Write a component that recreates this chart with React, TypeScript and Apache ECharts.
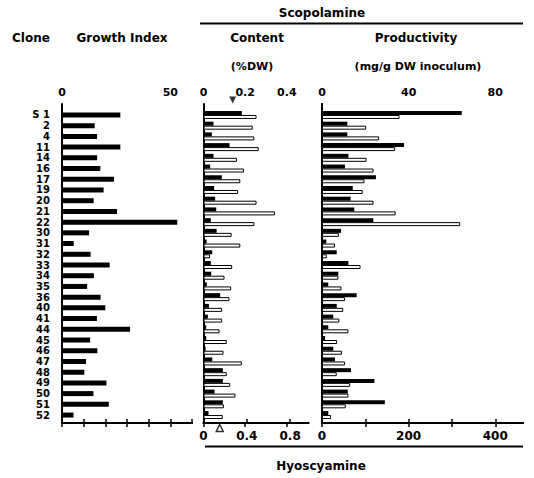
import React, { useEffect, useRef } from 'react';
import * as echarts from 'echarts';

const clones = ['S 1', '2', '4', '11', '14', '16', '17', '19', '20', '21', '22', '30', '31', '32', '33', '34', '35', '36', '40', '41', '44', '45', '46', '47', '48', '49', '50', '51', '52'];
const growthIndex = [26.9, 15.1, 16.2, 26.9, 16.2, 17.7, 24, 19.2, 14.6, 25.4, 53.2, 12.5, 5.4, 13.2, 22, 14.7, 11.6, 17.8, 20, 16.1, 31.4, 13, 16.3, 11.1, 10.3, 20.5, 14.5, 21.6, 5.3];
const scopContent = [0.184, 0.048, 0.04, 0.125, 0.048, 0.032, 0.088, 0.051, 0.056, 0.061, 0.035, 0.063, 0.015, 0.042, 0.035, 0.037, 0.016, 0.08, 0.026, 0.021, 0.013, 0.013, 0.01, 0.042, 0.093, 0.093, 0.053, 0.093, 0.024];
const hyosContent = [0.49, 0.455, 0.47, 0.51, 0.31, 0.375, 0.34, 0.32, 0.49, 0.66, 0.47, 0.26, 0.34, 0.06, 0.265, 0.194, 0.255, 0.24, 0.172, 0.172, 0.148, 0.215, 0.185, 0.354, 0.215, 0.246, 0.295, 0.188, 0.178];
const scopProd = [64.5, 11.7, 11.7, 37.9, 12.2, 10.6, 24.9, 14.2, 13.2, 14.9, 23.7, 8.8, 2, 6.8, 12.2, 7.5, 2.9, 16, 6.8, 5.2, 2.9, 1.4, 5.2, 6, 13.4, 24.2, 11.9, 29, 2.9];
const hyosProd = [179, 102, 132, 169, 103, 119, 98, 94, 119, 170, 319, 39, 30, 11, 89, 38, 45, 53, 49, 40, 61, 35, 46, 53, 34, 65, 61, 55, 21];
const scopParentContent = 0.14;
const hyosParentContent = 0.15;

const growthTopLabels = [0, 50];
const contentTopLabels = [0, 0.2, 0.4];
const contentBottomLabels = [0, 0.4, 0.8];
const prodTopLabels = [0, 40, 80];
const prodBottomLabels = [0, 200, 400];

const FONT = '"DejaVu Sans", "Liberation Sans", sans-serif';

export default function App() {
  const ref = useRef<HTMLDivElement>(null);
  useEffect(() => {
    const chart = echarts.init(ref.current!, null, { renderer: 'svg' });
    const grids: any[] = [];
    const xAxes: any[] = [];
    const yAxes: any[] = [];
    const series: any[] = [];
    const FRAME_TOP = 104;
    const FRAME_H = 319;
    const BAR_TOP = 109.6;
    const BAR_H = 310.8;

    const panels = [
      { left: 62, width: 130, top: { max: 60, interval: 10, labels: growthTopLabels }, bottom: { max: 60, interval: 10, labels: [] as number[] }, right: false, black: growthIndex, white: null as number[] | null, showClones: true, marks: false },
      { left: 203.5, width: 105, top: { max: 0.504, interval: 0.2, labels: contentTopLabels }, bottom: { max: 0.97, interval: 0.4, labels: contentBottomLabels }, right: false, black: scopContent, white: hyosContent, showClones: false, marks: true },
      { left: 322, width: 201, top: { max: 92.8, interval: 20, labels: prodTopLabels }, bottom: { max: 464, interval: 100, labels: prodBottomLabels }, right: true, black: scopProd, white: hyosProd, showClones: false, marks: false },
    ];

    const fmt = (labels: number[]) => (v: number) => {
      const hit = labels.find((l) => Math.abs(l - v) < 1e-9);
      return hit === undefined ? '' : String(hit);
    };

    panels.forEach((p) => {
      const fg = grids.length;
      grids.push({ left: p.left, top: FRAME_TOP, width: p.width, height: FRAME_H });
      const bg = grids.length;
      grids.push({ left: p.left, top: BAR_TOP, width: p.width, height: BAR_H });

      const axisLine = { show: true, lineStyle: { color: '#000', width: 2 } };
      const axisTick = { show: true, inside: true, length: 4, lineStyle: { color: '#000', width: 1.5 } };

      const xTop = xAxes.length;
      xAxes.push({
        gridIndex: fg, type: 'value', position: 'top', min: 0, max: p.top.max, interval: p.top.interval,
        axisLine, axisTick, splitLine: { show: false },
        axisLabel: { show: true, margin: 6, color: '#000', fontSize: 11, fontWeight: 'bold', fontFamily: FONT, formatter: fmt(p.top.labels), showMaxLabel: false },
      });
      const xBottom = xAxes.length;
      xAxes.push({
        gridIndex: fg, type: 'value', position: 'bottom', min: 0, max: p.bottom.max, interval: p.bottom.interval,
        axisLine, axisTick, splitLine: { show: false },
        axisLabel: { show: p.bottom.labels.length > 0, margin: 7, color: '#000', fontSize: 12, fontWeight: 'bold', fontFamily: FONT, formatter: fmt(p.bottom.labels), showMaxLabel: false },
      });
      const xTopB = xAxes.length;
      xAxes.push({ gridIndex: bg, type: 'value', position: 'top', min: 0, max: p.top.max, show: false });
      const xBottomB = xAxes.length;
      xAxes.push({ gridIndex: bg, type: 'value', position: 'bottom', min: 0, max: p.bottom.max, show: false });

      const yFrame = yAxes.length;
      yAxes.push({
        gridIndex: fg, type: 'value', min: 0, max: 1, position: 'left',
        axisLine, axisTick: { show: false }, axisLabel: { show: false }, splitLine: { show: false },
      });
      if (p.right) {
        yAxes.push({
          gridIndex: fg, type: 'value', min: 0, max: 1, position: 'right',
          axisLine, axisTick: { show: false }, axisLabel: { show: false }, splitLine: { show: false },
        });
      }
      const yBar = yAxes.length;
      yAxes.push({
        gridIndex: bg, type: 'category', data: clones, inverse: true,
        axisLine: { show: false }, axisTick: { show: false }, splitLine: { show: false },
        axisLabel: { show: p.showClones, margin: 12, color: '#000', fontSize: 10, fontWeight: 'bold', fontFamily: FONT, interval: 0 },
      });

      series.push({
        type: 'bar', xAxisIndex: xTopB, yAxisIndex: yBar, data: p.black,
        barWidth: p.white ? 4 : 5, barGap: '0%',
        itemStyle: { color: '#000' },
      });
      if (p.white) {
        series.push({
          type: 'bar', xAxisIndex: xBottomB, yAxisIndex: yBar, data: p.white,
          barWidth: 4, barGap: '0%',
          itemStyle: { color: '#fff', borderColor: '#000', borderWidth: 1 },
        });
      }
      if (p.marks) {
        series.push({
          type: 'scatter', xAxisIndex: xTop, yAxisIndex: yFrame, clip: false, z: 5,
          data: [[scopParentContent, 1]], symbol: 'triangle', symbolRotate: 180, symbolSize: 7, symbolOffset: [0, -4],
          itemStyle: { color: '#000' },
        });
        series.push({
          type: 'scatter', xAxisIndex: xBottom, yAxisIndex: yFrame, clip: false, z: 5,
          data: [[hyosParentContent, 0]], symbol: 'triangle', symbolSize: 7, symbolOffset: [0, 5],
          itemStyle: { color: '#fff', borderColor: '#000', borderWidth: 1.5 },
        });
      }
    });

    const txt = (text: string, x: number, y: number, size = 12) => ({
      type: 'text',
      style: {
        text, x, y, fill: '#000',
        font: `bold ${size}px ${FONT}`,
        fontSize: size, fontWeight: 'bold', fontFamily: FONT,
        align: 'center', verticalAlign: 'middle', textAlign: 'center', textVerticalAlign: 'middle',
      },
    });
    const line = (x1: number, y1: number, x2: number, y2: number) => ({
      type: 'line', shape: { x1, y1, x2, y2 }, style: { stroke: '#000', lineWidth: 2 },
    });

    chart.setOption({
      animation: false,
      backgroundColor: '#fff',
      grid: grids,
      xAxis: xAxes,
      yAxis: yAxes,
      series,
      graphic: [
        txt('Scopolamine', 322, 13),
        line(200, 23.5, 523, 23.5),
        txt('Clone', 31, 38),
        txt('Growth Index', 122, 38),
        txt('Content', 257, 38),
        txt('Productivity', 416, 38),
        txt('(%DW)', 252, 66, 11),
        txt('(mg/g DW inoculum)', 418, 66, 11),
        line(205, 446.5, 523, 446.5),
        txt('Hyoscyamine', 321, 466),
      ],
    });
    return () => chart.dispose();
  }, []);
  return <div ref={ref} style={{ position: 'absolute', left: 0, top: 0, width: 534, height: 478 }} />;
}
